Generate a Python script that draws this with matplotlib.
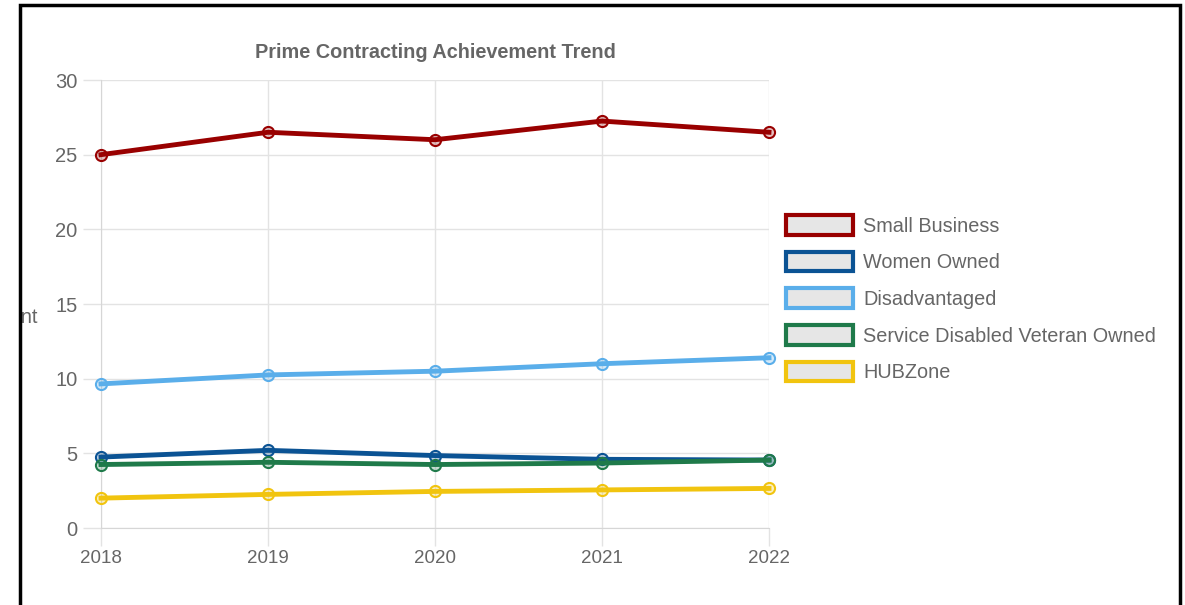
import matplotlib
matplotlib.use("Agg")
import matplotlib.pyplot as plt
from matplotlib.patches import Rectangle
from matplotlib.lines import Line2D
from matplotlib.transforms import Bbox

# ----------------------------------------------------------------------
# Data (percent of prime contract dollars)
# ----------------------------------------------------------------------
YEARS = ["2018", "2019", "2020", "2021", "2022"]
SERIES = ["Small Business", "Women Owned", "Disadvantaged",
          "Service Disabled Veteran Owned", "HUBZone"]
small_business = [25.0, 26.5, 26.0, 27.25, 26.5]
women_owned = [4.75, 5.2, 4.85, 4.6, 4.55]
disadvantaged = [9.65, 10.25, 10.5, 11.0, 11.4]
sdvo = [4.25, 4.4, 4.25, 4.35, 4.55]
hubzone = [2.0, 2.25, 2.45, 2.55, 2.65]
COLORS = ["#990000", "#0b5394", "#5aaeea", "#1f7a4a", "#f1c40f"]

W, H = 1185, 605
GRAY = "#666666"
plt.rcParams["font.family"] = ["Liberation Sans", "DejaVu Sans"]

fig = plt.figure(figsize=(W / 100, H / 100), dpi=100)
fig.patch.set_facecolor("white")

# plot area in pixels: x 101..769, y 80..528
ax = fig.add_axes([101 / W, 1 - 528 / H, (769 - 101) / W, (528 - 80) / H])

x = list(range(len(YEARS)))
for vals, name, c in zip([small_business, women_owned, disadvantaged, sdvo, hubzone],
                         SERIES, COLORS):
    ax.plot(x, vals, color=c, lw=3.5, marker="o", ms=8,
            mec=c, mfc=matplotlib.colors.to_rgba(c, 0.25), mew=1.5,
            label=name, clip_on=False, zorder=3)

ax.set_xlim(0, 4)
ax.set_ylim(0, 30)
ax.set_xticks(x)
ax.set_xticklabels(YEARS, fontfamily=["Liberation Sans Narrow", "Liberation Sans"],
                   fontsize=13.5)
ax.set_yticks([0, 5, 10, 15, 20, 25, 30])
ax.grid(True, color="#e3e3e3", lw=1)
ax.set_axisbelow(True)
for s in ["top", "right"]:
    ax.spines[s].set_visible(False)
for s in ["left", "bottom"]:
    ax.spines[s].set_color("#d6d6d6")
ax.tick_params(axis="both", colors="#e3e3e3", labelcolor=GRAY, length=13, width=1)
ax.tick_params(axis="y", labelsize=14.5, pad=4)
ax.tick_params(axis="x", pad=3)

ax.set_title("Prime Contracting Achievement Trend", color=GRAY,
             fontsize=14.3, fontweight="bold", pad=16)

# y label, cut off by the frame on the left
ylab = fig.text(38 / W, 1 - 317 / H, "Percent", color=GRAY, fontsize=14.5,
                ha="right", va="center")
ylab.set_clip_box(Bbox([[21, 0], [W, H]]))

# legend
handles = [Rectangle((0, 0), 1, 1, facecolor="#e6e6e6", edgecolor=c, lw=3)
           for c in COLORS]
LFS = 14.3
fs_px = LFS * 100 / 72
fig.legend(handles, SERIES, loc="upper left",
           bbox_to_anchor=(786 / W, 1 - 215 / H),
           frameon=False, fontsize=LFS, labelcolor=GRAY,
           handlelength=67 / fs_px, handleheight=23 / fs_px,
           handletextpad=10 / fs_px, labelspacing=16 / fs_px,
           borderpad=0, borderaxespad=0)

# outer black frame (bottom edge is below the picture)
frame_x = [20, 20, 1180, 1180]
frame_y = [615, 5, 5, 615]
fig.add_artist(Line2D([v / W for v in frame_x], [1 - v / H for v in frame_y],
                      transform=fig.transFigure, color="black", lw=2.5,
                      solid_joinstyle="miter", zorder=10))

fig.savefig("out.png", dpi=100)
